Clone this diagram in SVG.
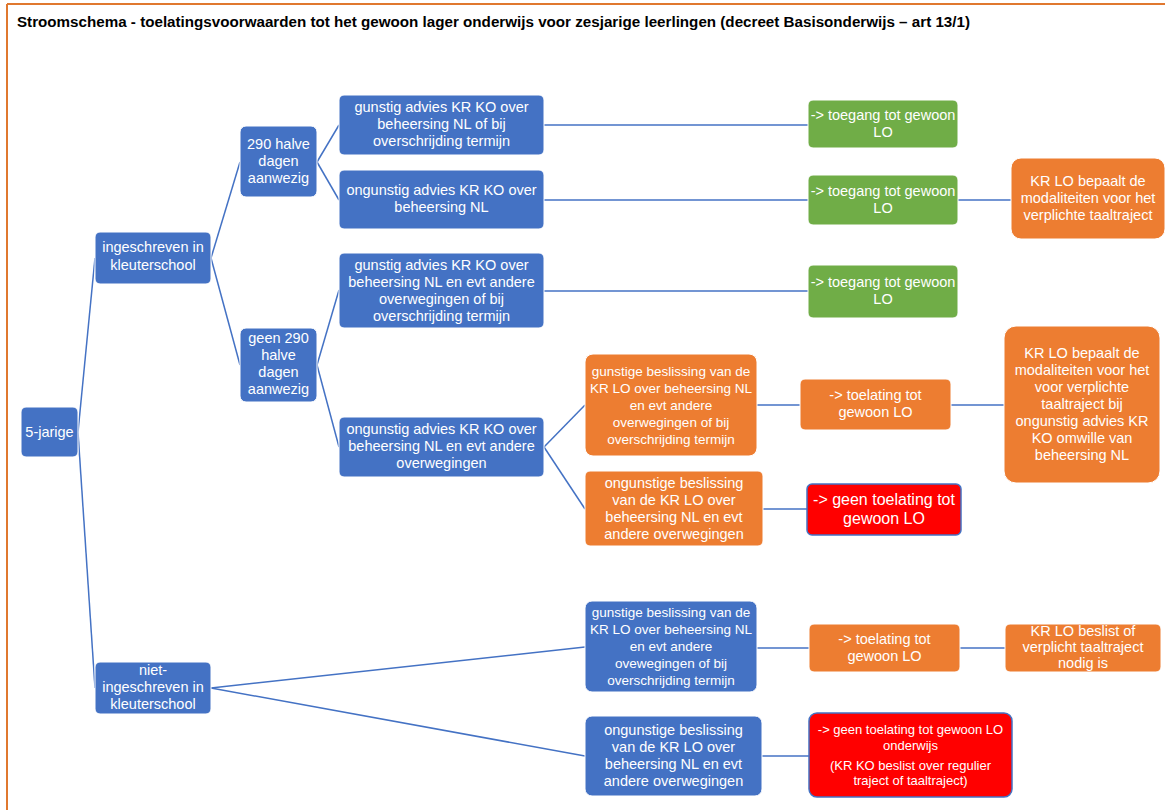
<svg xmlns="http://www.w3.org/2000/svg" width="1165" height="810" viewBox="0 0 1165 810">
<style>
.t{font-family:"Liberation Sans",Arial,sans-serif;font-size:14.5px;fill:#fff;text-anchor:middle}
.s{font-size:13.5px}
.blue{fill:#4472C4;stroke:#fff;stroke-width:1}
.green{fill:#70AD47;stroke:#fff;stroke-width:1}
.orange{fill:#ED7D31;stroke:#fff;stroke-width:1}
.red{fill:#FF0000;stroke:#4472C4;stroke-width:1.5}
.c line{stroke:#4472C4;stroke-width:1.5;fill:none}
</style>
<rect width="1165" height="810" fill="#fff"/>
<g id="frame">
<line x1="7" y1="4" x2="1165" y2="4" stroke="#E0782F" stroke-width="2"/>
<line x1="7" y1="4" x2="7" y2="810" stroke="#E0782F" stroke-width="2"/>
</g>
<text id="title" x="17" y="27" font-family="Liberation Sans,Arial,sans-serif" font-size="14" font-weight="bold" fill="#000" textLength="953" lengthAdjust="spacingAndGlyphs">Stroomschema - toelatingsvoorwaarden tot het gewoon lager onderwijs voor zesjarige leerlingen (decreet Basisonderwijs – art 13/1)</text>
<g id="connectors" class="c">
<line x1="78" y1="432" x2="95" y2="258"/>
<line x1="78" y1="432" x2="95" y2="688"/>
<line x1="211" y1="258" x2="240" y2="162"/>
<line x1="211" y1="258" x2="240" y2="365"/>
<line x1="317" y1="162" x2="339" y2="125"/>
<line x1="317" y1="162" x2="339" y2="200"/>
<line x1="317" y1="365" x2="339" y2="290"/>
<line x1="317" y1="365" x2="339" y2="447"/>
<line x1="544" y1="125" x2="808" y2="125"/>
<line x1="544" y1="200" x2="808" y2="200"/>
<line x1="958" y1="200" x2="1011" y2="200"/>
<line x1="544" y1="291" x2="808" y2="291"/>
<line x1="544" y1="447" x2="585" y2="405"/>
<line x1="544" y1="447" x2="585" y2="509"/>
<line x1="757" y1="405" x2="800" y2="405"/>
<line x1="951" y1="405" x2="1004" y2="405"/>
<line x1="763" y1="509" x2="807" y2="509"/>
<line x1="211" y1="688" x2="585" y2="647"/>
<line x1="211" y1="688" x2="585" y2="756"/>
<line x1="757" y1="648" x2="809" y2="648"/>
<line x1="960" y1="648" x2="1005" y2="648"/>
<line x1="762" y1="756" x2="809" y2="756"/>
</g>
<g id="n-5jarige"><rect class="blue" x="21" y="407" width="57" height="50" rx="5"/><text class="t" x="49.5" y="437">5-jarige</text></g>
<g id="n-ingeschreven"><rect class="blue" x="95" y="232" width="116" height="52" rx="5"/><text class="t"><tspan x="153" y="252">ingeschreven in</tspan><tspan x="153" y="270">kleuterschool</tspan></text></g>
<g id="n-niet"><rect class="blue" x="95" y="662" width="116" height="52" rx="5"/><text class="t"><tspan x="153" y="675">niet-</tspan><tspan x="153" y="692">ingeschreven in</tspan><tspan x="153" y="709">kleuterschool</tspan></text></g>
<g id="n-290"><rect class="blue" x="240" y="126" width="77" height="71" rx="6"/><text class="t"><tspan x="278.5" y="149">290 halve</tspan><tspan x="278.5" y="166">dagen</tspan><tspan x="278.5" y="183">aanwezig</tspan></text></g>
<g id="n-geen290"><rect class="blue" x="240" y="328" width="77" height="74" rx="6"/><text class="t"><tspan x="278.5" y="343">geen 290</tspan><tspan x="278.5" y="360">halve</tspan><tspan x="278.5" y="377">dagen</tspan><tspan x="278.5" y="394">aanwezig</tspan></text></g>
<g id="n-gunstig1"><rect class="blue" x="339" y="95" width="205" height="60" rx="5"/><text class="t"><tspan x="441.5" y="112">gunstig advies KR KO over</tspan><tspan x="441.5" y="129">beheersing NL of bij</tspan><tspan x="441.5" y="146">overschrijding termijn</tspan></text></g>
<g id="n-ongunstig1"><rect class="blue" x="339" y="170" width="205" height="59" rx="5"/><text class="t"><tspan x="441.5" y="195">ongunstig advies KR KO over</tspan><tspan x="441.5" y="212">beheersing NL</tspan></text></g>
<g id="n-gunstig2"><rect class="blue" x="339" y="253" width="205" height="75" rx="5"/><text class="t"><tspan x="441.5" y="270">gunstig advies KR KO over</tspan><tspan x="441.5" y="287">beheersing NL en evt andere</tspan><tspan x="441.5" y="304">overwegingen of bij</tspan><tspan x="441.5" y="321">overschrijding termijn</tspan></text></g>
<g id="n-ongunstig2"><rect class="blue" x="339" y="417" width="205" height="60" rx="5"/><text class="t"><tspan x="441.5" y="434">ongunstig advies KR KO over</tspan><tspan x="441.5" y="451">beheersing NL en evt andere</tspan><tspan x="441.5" y="468">overwegingen</tspan></text></g>
<g id="n-toegang1"><rect class="green" x="808" y="100" width="150" height="48" rx="5"/><text class="t"><tspan x="883" y="120">-&gt; toegang tot gewoon</tspan><tspan x="883" y="137">LO</tspan></text></g>
<g id="n-toegang2"><rect class="green" x="808" y="175" width="150" height="50" rx="5"/><text class="t"><tspan x="883" y="196">-&gt; toegang tot gewoon</tspan><tspan x="883" y="213">LO</tspan></text></g>
<g id="n-toegang3"><rect class="green" x="808" y="265" width="150" height="53" rx="5"/><text class="t"><tspan x="883" y="287">-&gt; toegang tot gewoon</tspan><tspan x="883" y="304">LO</tspan></text></g>
<g id="n-krlo-bepaalt1"><rect class="orange" x="1011" y="158" width="154" height="81" rx="10"/><text class="t"><tspan x="1088" y="186">KR LO bepaalt de</tspan><tspan x="1088" y="203">modaliteiten voor het</tspan><tspan x="1088" y="220">verplichte taaltraject</tspan></text></g>
<g id="n-gunstige-beslissing1"><rect class="orange" x="585" y="354" width="172" height="102" rx="8"/><text class="t s"><tspan x="671" y="376">gunstige beslissing van de</tspan><tspan x="671" y="393">KR LO over beheersing NL</tspan><tspan x="671" y="410">en evt andere</tspan><tspan x="671" y="427">overwegingen of bij</tspan><tspan x="671" y="444">overschrijding termijn</tspan></text></g>
<g id="n-toelating1"><rect class="orange" x="800" y="379" width="151" height="51" rx="5"/><text class="t"><tspan x="875.5" y="400">-&gt; toelating tot</tspan><tspan x="875.5" y="417">gewoon LO</tspan></text></g>
<g id="n-krlo-bepaalt2"><rect class="orange" x="1004" y="326" width="156" height="157" rx="12"/><text class="t"><tspan x="1082" y="358">KR LO bepaalt de</tspan><tspan x="1082" y="375">modaliteiten voor het</tspan><tspan x="1082" y="392">voor verplichte</tspan><tspan x="1082" y="409">taaltraject bij</tspan><tspan x="1082" y="426">ongunstig advies KR</tspan><tspan x="1082" y="443">KO omwille van</tspan><tspan x="1082" y="460">beheersing NL</tspan></text></g>
<g id="n-ongunstige-beslissing1"><rect class="orange" x="585" y="471" width="178" height="75" rx="5"/><text class="t"><tspan x="674" y="488">ongunstige beslissing</tspan><tspan x="674" y="505">van de KR LO over</tspan><tspan x="674" y="522">beheersing NL en evt</tspan><tspan x="674" y="539">andere overwegingen</tspan></text></g>
<g id="n-geen-toelating1"><rect class="red" x="807" y="484" width="154" height="51" rx="5"/><text class="t" style="font-size:16px"><tspan x="884" y="505">-&gt; geen toelating tot</tspan><tspan x="884" y="524">gewoon LO</tspan></text></g>
<g id="n-gunstige-beslissing2"><rect class="blue" x="585" y="601" width="172" height="91" rx="7"/><text class="t s"><tspan x="671" y="617">gunstige beslissing van de</tspan><tspan x="671" y="634">KR LO over beheersing NL</tspan><tspan x="671" y="651">en evt andere</tspan><tspan x="671" y="668">ovewegingen of bij</tspan><tspan x="671" y="685">overschrijding termijn</tspan></text></g>
<g id="n-toelating2"><rect class="orange" x="809" y="624" width="151" height="48" rx="5"/><text class="t"><tspan x="884.5" y="644">-&gt; toelating tot</tspan><tspan x="884.5" y="661">gewoon LO</tspan></text></g>
<g id="n-krlo-beslist"><rect class="orange" x="1005" y="624" width="156" height="48" rx="5"/><text class="t"><tspan x="1083" y="636">KR LO beslist of</tspan><tspan x="1083" y="652">verplicht taaltraject</tspan><tspan x="1083" y="668">nodig is</tspan></text></g>
<g id="n-ongunstige-beslissing2"><rect class="blue" x="585" y="716" width="177" height="80" rx="7"/><text class="t"><tspan x="673.5" y="735">ongunstige beslissing</tspan><tspan x="673.5" y="752">van de KR LO over</tspan><tspan x="673.5" y="769">beheersing NL en evt</tspan><tspan x="673.5" y="786">andere overwegingen</tspan></text></g>
<g id="n-geen-toelating2"><rect class="red" x="809" y="713" width="203" height="84" rx="8"/><text class="t" style="font-size:13px"><tspan x="910.5" y="734">-&gt; geen toelating tot gewoon LO</tspan><tspan x="910.5" y="750">onderwijs</tspan><tspan x="910.5" y="770">(KR KO beslist over regulier</tspan><tspan x="910.5" y="785">traject of taaltraject)</tspan></text></g>
</svg>
